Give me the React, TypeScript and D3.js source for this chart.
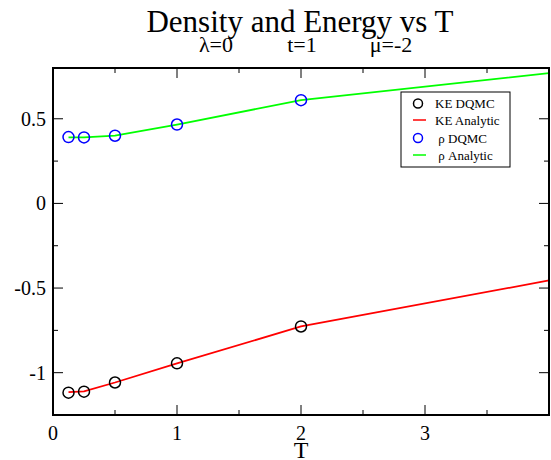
import React from "react";
import * as d3 from "d3";

const keT = [0.125, 0.25, 0.5, 1, 2];
const keDQMC = [-1.118, -1.112, -1.058, -0.945, -0.727];
const rhoDQMC = [0.392, 0.39, 0.4, 0.466, 0.61];

const anT = [0.125, 0.25, 0.5, 1, 2, 4];
const keAnalytic = [-1.115, -1.11, -1.058, -0.945, -0.727, -0.455];
const rhoAnalytic = [0.39, 0.39, 0.4, 0.466, 0.61, 0.77];

const xTicks = [0, 1, 2, 3];
const xMinor = [0.5, 1.5, 2.5, 3.5];
const yTicks = [-1, -0.5, 0, 0.5];
const yMinor = [-0.75, -0.25, 0.25];
const legendItems = [
  { label: "KE DQMC", type: "circle", color: "#000000" },
  { label: "KE Analytic", type: "line", color: "#ff0000" },
  { label: " ρ DQMC", type: "circle", color: "#0000ff" },
  { label: " ρ Analytic", type: "line", color: "#00ff00" },
];

export default function App() {
  const W = 551, H = 460;
  const left = 53, right = 549, top = 68, bottom = 415;
  const x = d3.scaleLinear().domain([0, 4]).range([left, right]);
  const y = d3.scaleLinear().domain([-1.25, 0.8]).range([bottom, top]);
  const line = d3.line<[number, number]>().x((d) => x(d[0])).y((d) => y(d[1]));
  const keLine = line(anT.map((t, i) => [t, keAnalytic[i]]) as [number, number][]) || "";
  const rhoLine = line(anT.map((t, i) => [t, rhoAnalytic[i]]) as [number, number][]) || "";
  const ts = (size: number): React.CSSProperties => ({ fontFamily: "'Liberation Serif', 'Times New Roman', serif", fontSize: size, whiteSpace: "pre" });
  const fmt = (v: number) => (v === 0 ? "0" : String(v));
  const lgX = 401, lgY = 92, lgW = 109, lgH = 75;
  const rowY = [103.5, 120, 138, 155];

  return (
    <svg width={W} height={H} style={{ position: "absolute", left: 0, top: 0, background: "#fff" }}>
      <rect x={0} y={0} width={W} height={H} fill="#fff" />
      <text x={300} y={32} textAnchor="middle" style={ts(31)}>Density and Energy vs T</text>
      <text x={216} y={52} textAnchor="middle" style={ts(22)}>λ=0</text>
      <text x={302} y={52} textAnchor="middle" style={ts(22)}>t=1</text>
      <text x={391} y={52} textAnchor="middle" style={ts(22)}>μ=-2</text>

      {xTicks.map((t) => (
        <g key={"xt" + t}>
          <line x1={x(t)} x2={x(t)} y1={bottom} y2={bottom - 10} stroke="#000" strokeWidth={1} />
          <line x1={x(t)} x2={x(t)} y1={top} y2={top + 10} stroke="#000" strokeWidth={1} />
          <text x={x(t)} y={440} textAnchor="middle" style={ts(20)}>{fmt(t)}</text>
        </g>
      ))}
      {xMinor.map((t) => (
        <g key={"xm" + t}>
          <line x1={x(t)} x2={x(t)} y1={bottom} y2={bottom - 5} stroke="#000" strokeWidth={1} />
          <line x1={x(t)} x2={x(t)} y1={top} y2={top + 5} stroke="#000" strokeWidth={1} />
        </g>
      ))}
      {yTicks.map((t) => (
        <g key={"yt" + t}>
          <line x1={left} x2={left + 10} y1={y(t)} y2={y(t)} stroke="#000" strokeWidth={1} />
          <line x1={right} x2={right - 10} y1={y(t)} y2={y(t)} stroke="#000" strokeWidth={1} />
          <text x={46} y={y(t) + 7} textAnchor="end" style={ts(20)}>{fmt(t)}</text>
        </g>
      ))}
      {yMinor.map((t) => (
        <g key={"ym" + t}>
          <line x1={left} x2={left + 5} y1={y(t)} y2={y(t)} stroke="#000" strokeWidth={1} />
          <line x1={right} x2={right - 5} y1={y(t)} y2={y(t)} stroke="#000" strokeWidth={1} />
        </g>
      ))}
      <text x={x(2)} y={458} textAnchor="middle" style={ts(24)}>T</text>

      <path d={keLine} fill="none" stroke="#ff0000" strokeWidth={1.8} />
      <path d={rhoLine} fill="none" stroke="#00ff00" strokeWidth={1.8} />
      {keT.map((t, i) => (
        <circle key={"ke" + i} cx={x(t)} cy={y(keDQMC[i])} r={5.5} fill="none" stroke="#000" strokeWidth={1.5} />
      ))}
      {keT.map((t, i) => (
        <circle key={"rho" + i} cx={x(t)} cy={y(rhoDQMC[i])} r={5.5} fill="none" stroke="#0000ff" strokeWidth={1.5} />
      ))}

      <rect x={left} y={top} width={right - left} height={bottom - top} fill="none" stroke="#000" strokeWidth={2} />

      <rect x={lgX} y={lgY} width={lgW} height={lgH} fill="#fff" stroke="#000" strokeWidth={1} />
      {legendItems.map((it, i) => (
        <g key={"lg" + i}>
          {it.type === "circle" ? (
            <circle cx={418} cy={rowY[i]} r={4.5} fill="none" stroke={it.color} strokeWidth={1.5} />
          ) : (
            <line x1={413} x2={426} y1={rowY[i]} y2={rowY[i]} stroke={it.color} strokeWidth={1.5} />
          )}
          <text x={435} y={rowY[i] + 4.5} style={ts(13)}>{it.label}</text>
        </g>
      ))}
    </svg>
  );
}
